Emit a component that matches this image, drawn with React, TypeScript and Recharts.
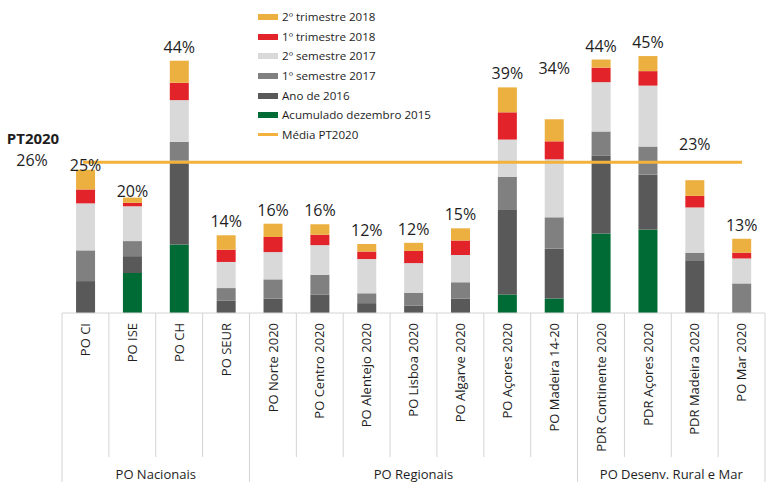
import { BarChart, Bar, XAxis, YAxis, ReferenceLine, LabelList } from 'recharts';

// Categories (programas operacionais)
const categories = [
    'PO CI', 'PO ISE', 'PO CH', 'PO SEUR',
    'PO Norte 2020', 'PO Centro 2020', 'PO Alentejo 2020', 'PO Lisboa 2020', 'PO Algarve 2020', 'PO Açores 2020', 'PO Madeira 14-20',
    'PDR Continente 2020', 'PDR Açores 2020', 'PDR Madeira 2020', 'PO Mar 2020',
];

// Stacked series (percentage points), bottom to top
const acumulado2015 = [0, 6.9, 11.8, 0, 0, 0, 0, 0, 0, 3.2, 2.5, 13.7, 14.4, 0, 0];
const ano2016 = [5.5, 2.9, 14.5, 2.1, 2.5, 3.2, 1.7, 1.3, 2.5, 14.7, 8.6, 13.4, 9.5, 9.1, 0];
const semestre1_2017 = [5.3, 2.6, 3.2, 2.2, 3.3, 3.4, 1.7, 2.2, 2.8, 5.6, 5.4, 4.2, 4.8, 1.3, 5.1];
const semestre2_2017 = [8.1, 6.0, 7.2, 4.5, 4.7, 5.1, 5.9, 5.1, 4.7, 6.4, 10.0, 8.5, 10.5, 7.8, 4.3];
const trimestre1_2018 = [2.4, 0.6, 3.0, 2.1, 2.6, 1.8, 1.3, 2.1, 2.5, 4.7, 3.1, 2.5, 2.5, 2.0, 1.0];
const trimestre2_2018 = [3.4, 0.9, 3.8, 2.5, 2.3, 1.8, 1.3, 1.4, 2.1, 4.3, 3.8, 1.4, 2.6, 2.7, 2.4];

// Printed totals on top of each bar
const totalLabels = [25, 20, 44, 14, 16, 16, 12, 12, 15, 39, 34, 44, 45, 23, 13];

const mediaPT2020 = 26;

const groupNames = ['PO Nacionais', 'PO Regionais', 'PO Desenv. Rural e Mar'];
const groupSizes = [4, 7, 4];

const SERIES = [
    { key: 'acumulado2015', name: 'Acumulado dezembro 2015', color: '#006B35', values: acumulado2015 },
    { key: 'ano2016', name: 'Ano de 2016', color: '#595959', values: ano2016 },
    { key: 'semestre1_2017', name: '1º semestre 2017', color: '#808080', values: semestre1_2017 },
    { key: 'semestre2_2017', name: '2º semestre 2017', color: '#D9D9D9', values: semestre2_2017 },
    { key: 'trimestre1_2018', name: '1º trimestre 2018', color: '#E2242A', values: trimestre1_2018 },
    { key: 'trimestre2_2018', name: '2º trimestre 2018', color: '#EBB03F', values: trimestre2_2018 },
];

const LINE_COLOR = '#F2B23C';
const DIVIDER = '#D4D4D4';
const FONT = '"Open Sans", "Noto Sans", sans-serif';
const TEXT = '#1E1E1E';

// manual label nudges (px, positive = higher) copied from the original layout
const LABEL_NUDGE: Record<number, number> = { 0: -9, 1: -7, 10: 37, 13: 22 };

const data = categories.map((name, i) => {
    const row: Record<string, string | number> = { name, total: totalLabels[i] };
    SERIES.forEach((s) => { row[s.key] = s.values[i]; });
    return row;
});

const groupStart: Record<number, number> = {};
let acc = 0;
groupSizes.forEach((size, g) => { groupStart[acc] = g; acc += size; });

const PLOT_LEFT = 62;
const PLOT_RIGHT = 765;

function CategoryTick(props: any) {
    const { x, y, payload, index } = props;
    const half = payload && payload.offset > 0 ? payload.offset : (PLOT_RIGHT - PLOT_LEFT) / categories.length / 2;
    const g = groupStart[index];
    const isLast = index === categories.length - 1;
    return (
        <g>
            <line x1={x - half} x2={x - half} y1={y} y2={y + (g !== undefined ? 169 : 144)} stroke={DIVIDER} strokeWidth={1} />
            {isLast && (
                <line x1={x + half} x2={x + half} y1={y} y2={y + 169} stroke={DIVIDER} strokeWidth={1} />
            )}
            <text
                transform={`translate(${x},${y + 10}) rotate(-90)`}
                textAnchor="end"
                dy="0.36em"
                fontSize={13}
                fontFamily={FONT}
                fill={TEXT}
            >
                {payload.value}
            </text>
            {g !== undefined && (
                <text
                    x={x - half + groupSizes[g] * half}
                    y={y + 166}
                    textAnchor="middle"
                    fontSize={13}
                    fontFamily={FONT}
                    fill={TEXT}
                >
                    {groupNames[g]}
                </text>
            )}
        </g>
    );
}

function TotalLabel(props: any) {
    const { x, y, width, index, value } = props;
    const nudge = LABEL_NUDGE[index] ?? 0;
    return (
        <text
            x={x + width / 2}
            y={y - 8 - nudge}
            textAnchor="middle"
            fontSize={16}
            fontFamily={FONT}
            fill={TEXT}
        >
            {`${value}%`}
        </text>
    );
}

function MediaLine(props: any) {
    const { x1, x2, y1 } = props;
    return (
        <g>
            <line x1={x1 + 21} x2={x2 - 23} y1={y1} y2={y1} stroke={LINE_COLOR} strokeWidth={3} />
            <text x={33} y={y1 - 18} textAnchor="middle" fontSize={15} fontWeight={700} fontFamily={FONT} fill={TEXT}>
                PT2020
            </text>
            <text x={32} y={y1 + 3.5} textAnchor="middle" fontSize={16} fontFamily={FONT} fill={TEXT}>
                {`${mediaPT2020}%`}
            </text>
        </g>
    );
}

function LegendBox() {
    const items = [...SERIES].reverse();
    return (
        <div style={{ position: 'absolute', left: 258, top: 7, fontFamily: FONT, fontSize: 11.6, color: TEXT, lineHeight: '19.7px' }}>
            {items.map((s) => (
                <div key={s.key} style={{ display: 'flex', alignItems: 'center', height: 19.7, whiteSpace: 'nowrap' }}>
                    <span style={{ display: 'inline-block', width: 20, height: 6, background: s.color, marginRight: 4 }} />
                    {s.name}
                </div>
            ))}
            <div style={{ display: 'flex', alignItems: 'center', height: 19.7, whiteSpace: 'nowrap' }}>
                <span style={{ display: 'inline-block', width: 20, height: 3, background: LINE_COLOR, marginRight: 4 }} />
                Média PT2020
            </div>
        </div>
    );
}

export default function App() {
    return (
        <div style={{ position: 'absolute', left: 0, top: 0, width: 772, height: 499, background: '#fff' }}>
            <BarChart
                width={772}
                height={499}
                data={data}
                margin={{ top: 23, right: 7, left: 62, bottom: 0 }}
                barCategoryGap="30%"
            >
                <XAxis
                    dataKey="name"
                    height={186}
                    interval={0}
                    tickLine={false}
                    tickSize={0}
                    tickMargin={0}
                    axisLine={{ stroke: DIVIDER }}
                    tick={<CategoryTick />}
                />
                <YAxis hide domain={[0, 50]} />
                {SERIES.map((s, i) => (
                    <Bar
                        key={s.key}
                        dataKey={s.key}
                        name={s.name}
                        stackId="a"
                        fill={s.color}
                        isAnimationActive={false}
                    >
                        {i === SERIES.length - 1 && (
                            <LabelList dataKey="total" content={<TotalLabel />} />
                        )}
                    </Bar>
                ))}
                <ReferenceLine y={mediaPT2020} shape={<MediaLine />} ifOverflow="visible" />
            </BarChart>
            <LegendBox />
        </div>
    );
}
